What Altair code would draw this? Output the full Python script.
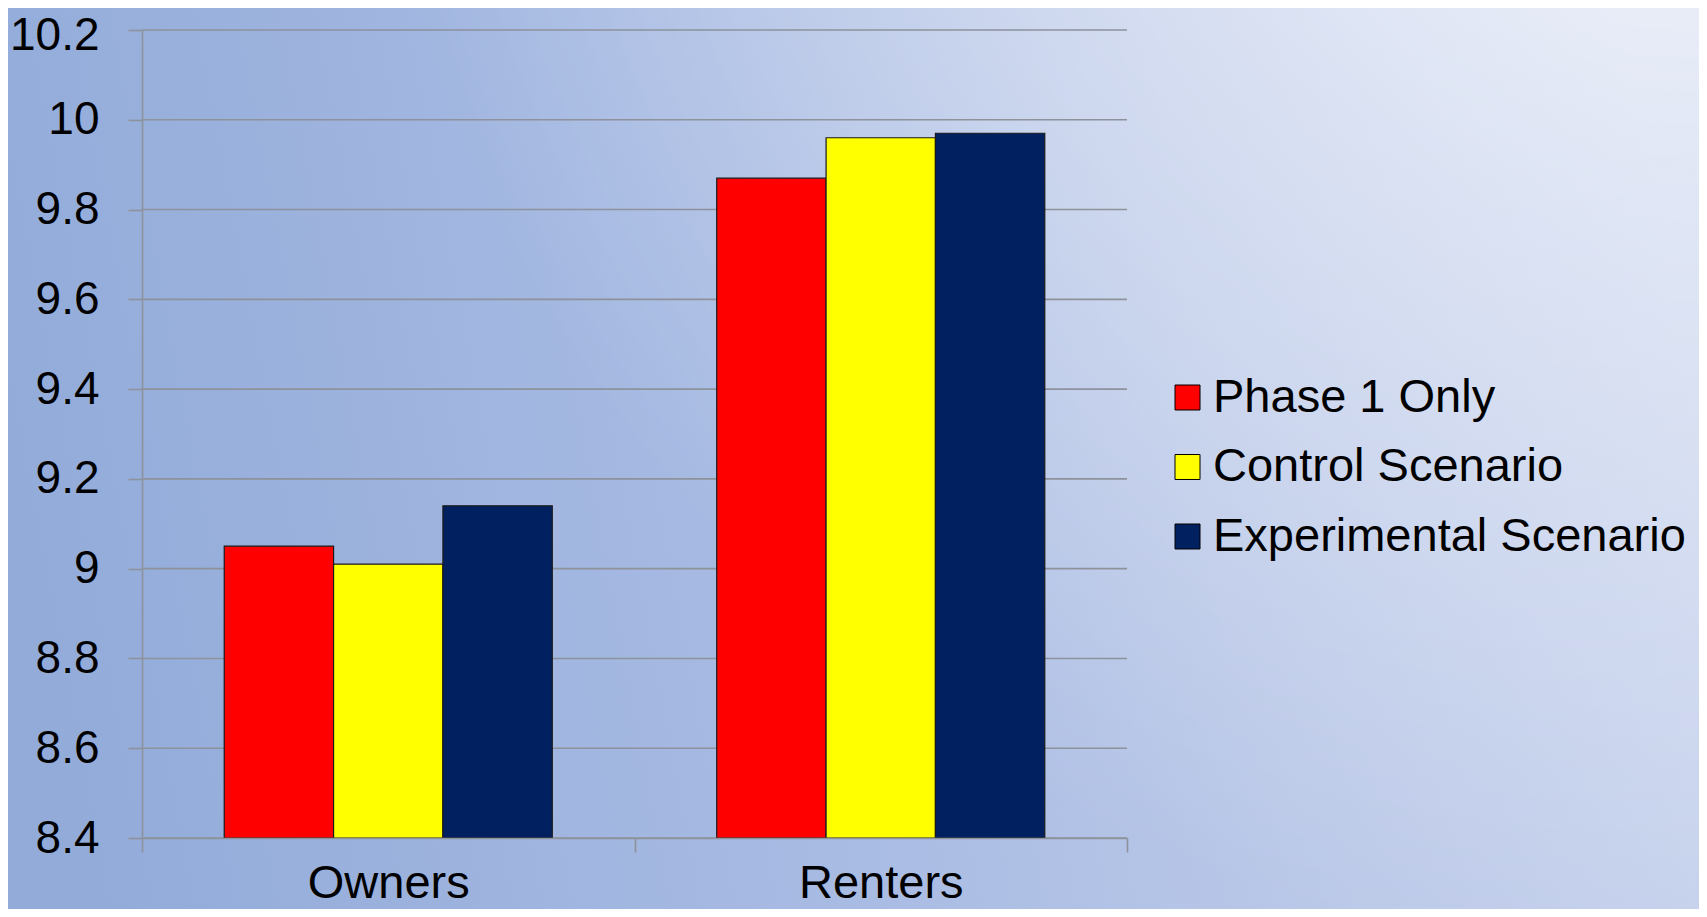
import altair as alt
import pandas as pd

# ---- data ----
categories = ["Owners", "Renters"]
series = ["Phase 1 Only", "Control Scenario", "Experimental Scenario"]
phase1_only = [9.05, 9.87]
control_scenario = [9.01, 9.96]
experimental_scenario = [9.14, 9.97]
colors = ["#FF0000", "#FFFF00", "#002060"]
y_ticks = [8.4, 8.6, 8.8, 9.0, 9.2, 9.4, 9.6, 9.8, 10.0, 10.2]

rows = []
for s, vals in zip(series, [phase1_only, control_scenario, experimental_scenario]):
    for c, v in zip(categories, vals):
        rows.append({"category": c, "series": s, "value": v})
df = pd.DataFrame(rows)
grid_df = pd.DataFrame({"tick": y_ticks})
bg_df = pd.DataFrame({"k": [0]})

W, H = 985, 808
PAD = {"left": 134, "top": 22, "right": 572, "bottom": 71}
FONT = "Liberation Sans"
GRID = "#8d929b"

yscale = alt.Scale(domain=[8.4, 10.2], zero=False, nice=False)
yaxis = alt.Axis(
    values=y_ticks,
    format="~g",
    labelFontSize=46,
    labelFont=FONT,
    labelColor="black",
    labelPadding=29,
    labelOffset={"condition": {"test": "datum.value >= 10.1", "value": 5}, "value": 0},
    labelBound=False,
    tickSize=14,
    tickColor=GRID,
    tickWidth=1.6,
    domainColor=GRID,
    domainWidth=1.6,
    grid=False,
    zindex=1,
)

bg_enc = dict(
    x=alt.value(-PAD["left"]),
    x2=alt.value(W + PAD["right"]),
    y=alt.value(-PAD["top"]),
    y2=alt.value(H + PAD["bottom"]),
)

background = alt.Chart(bg_df).mark_rect(
    fill=alt.Gradient(
        gradient="linear",
        x1=0, y1=0.55, x2=1, y2=0.45,
        stops=[
            alt.GradientStop(color="#92abd9", offset=0.0),
            alt.GradientStop(color="#a8bbe3", offset=0.45),
            alt.GradientStop(color="#bac8e8", offset=0.72),
            alt.GradientStop(color="#c8d3ed", offset=1.0),
        ],
    ),
    strokeWidth=0,
).encode(**bg_enc)

glow = alt.Chart(bg_df).mark_rect(
    fill=alt.Gradient(
        gradient="radial",
        x1=1, y1=0, r1=0,
        x2=1, y2=0, r2=0.8,
        stops=[
            alt.GradientStop(color="rgba(255,255,255,0.85)", offset=0.0),
            alt.GradientStop(color="rgba(255,255,255,0.42)", offset=0.45),
            alt.GradientStop(color="rgba(255,255,255,0.0)", offset=1.0),
        ],
    ),
    strokeWidth=0,
).encode(**bg_enc)

grid = alt.Chart(grid_df).mark_rule(color=GRID, strokeWidth=1.6).encode(
    y=alt.Y("tick:Q", scale=yscale, axis=yaxis, title=None),
)

bars = alt.Chart(df).mark_bar(stroke="#1a1a1a", strokeWidth=1.2).encode(
    x=alt.X(
        "category:N",
        sort=categories,
        scale=alt.Scale(paddingInner=0, paddingOuter=0),
        axis=alt.Axis(
            title=None,
            labelAngle=0,
            labelFontSize=47,
            labelFont=FONT,
            labelColor="black",
            labelPadding=8,
            tickBand="extent",
            tickSize=14,
            tickColor=GRID,
            tickWidth=1.6,
            domainColor=GRID,
            domainWidth=1.6,
            grid=False,
            zindex=1,
        ),
    ),
    xOffset=alt.XOffset("series:N", sort=series,
                        scale=alt.Scale(paddingInner=0, paddingOuter=0.752)),
    y=alt.Y("value:Q", scale=yscale, title=None, axis=yaxis),
    y2=alt.datum(8.4),
    color=alt.Color(
        "series:N",
        sort=series,
        scale=alt.Scale(domain=series, range=colors),
        legend=alt.Legend(
            title=None,
            orient="none",
            legendX=1022,
            legendY=344,
            symbolType="square",
            symbolSize=625,
            symbolStrokeColor="black",
            symbolStrokeWidth=1,
            symbolOpacity=1,
            labelFontSize=47,
            labelFont=FONT,
            labelColor="black",
            labelOffset=2,
            rowPadding=21.5,
            padding=0,
            labelLimit=800,
            zindex=1,
        ),
    ),
)

chart = alt.layer(background, glow, grid, bars).properties(
    width=W,
    height=H,
    autosize=alt.AutoSizeParams(type="none"),
    padding=PAD,
    background="#b0c2e6",
).configure_view(strokeWidth=0)

chart.save("out.html", embed_options={"renderer": "svg", "actions": False})
